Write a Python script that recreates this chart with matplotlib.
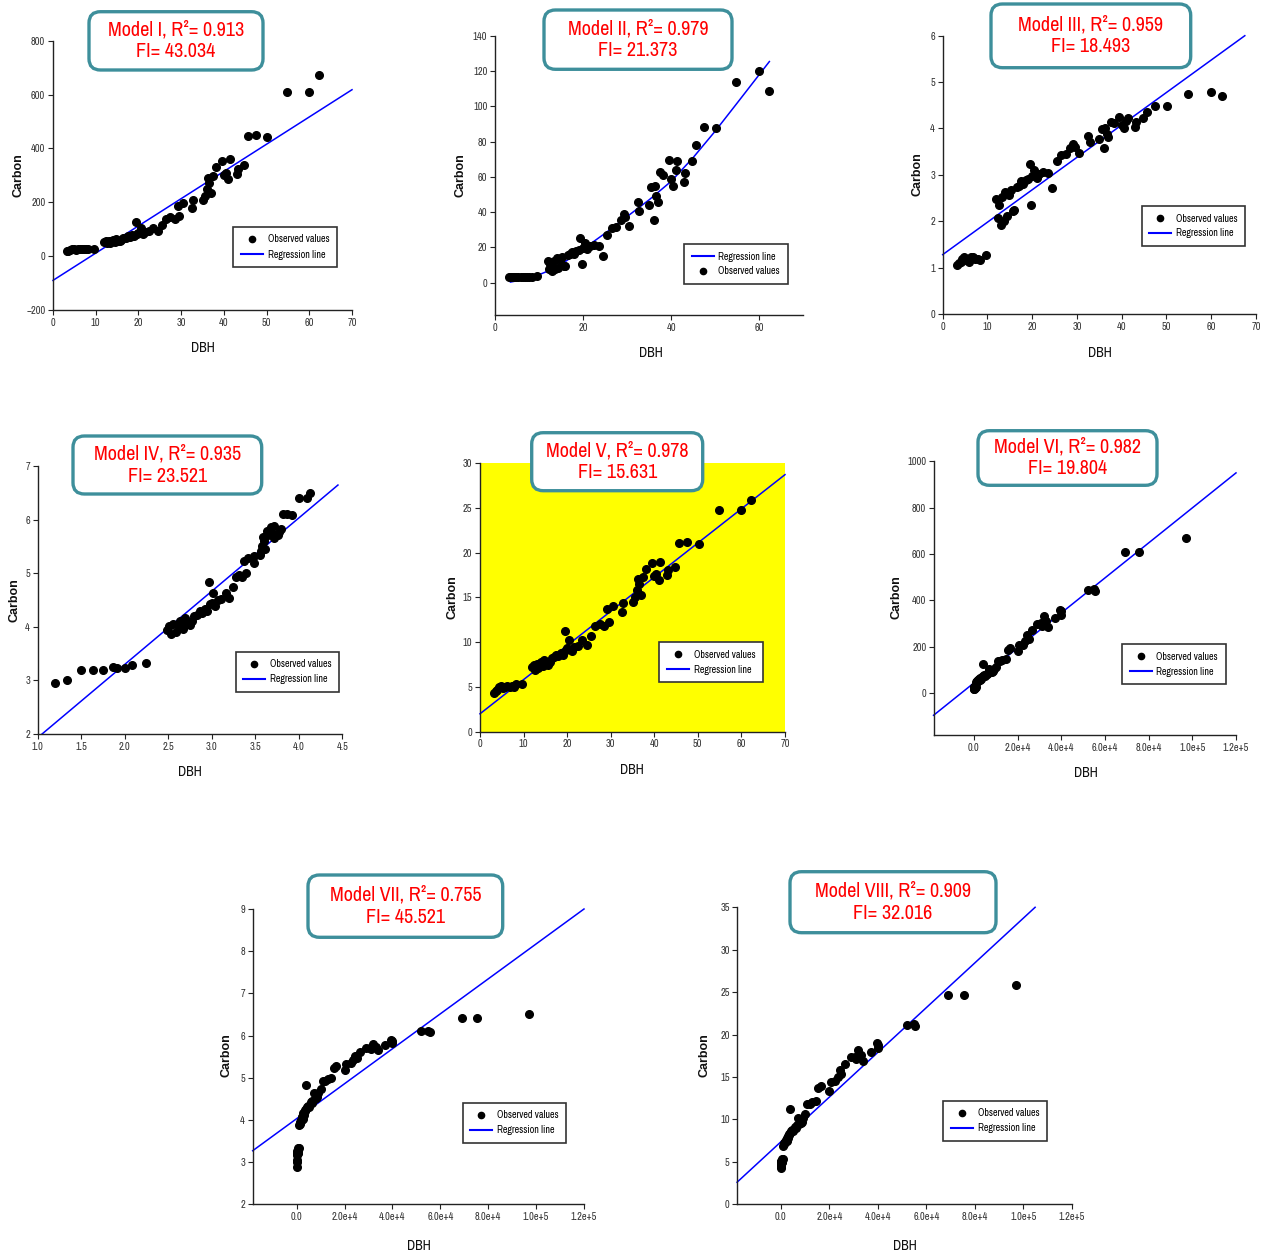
import matplotlib
matplotlib.use("Agg")
import matplotlib.pyplot as plt
from matplotlib import font_manager
from matplotlib.patches import FancyBboxPatch
from matplotlib.lines import Line2D
from matplotlib.ticker import FixedLocator, FixedFormatter

# tree data
dbh = [3.2, 3.6, 4.0, 4.4, 4.8, 5.3, 5.8, 6.3, 6.8, 7.3, 7.8, 8.3, 9.6,
       12.0, 12.3, 12.6, 13.0, 13.3, 13.6, 14.0, 14.4, 14.8, 15.2, 15.6, 16.0, 16.5, 17.0, 17.5, 18.0, 18.5, 19.0, 19.4, 19.7, 20.0,
       20.5, 21.0, 21.5, 22.5, 23.5, 24.5, 25.5, 26.5, 27.5, 28.5, 29.2, 29.6, 30.5, 32.5, 32.8, 35.0,
       35.5, 36.0, 36.3, 36.6, 37.0, 37.5, 38.2, 39.5, 40.0, 40.5, 41.0, 41.4, 43.0, 43.2, 44.8, 45.7, 47.5, 50.2, 54.8, 60.0, 62.3]

carbon = [18, 20, 21, 25, 26, 24, 25, 26, 25, 26, 25, 28, 28,
          52, 55, 48, 58, 50, 56, 61, 53, 64, 58, 56, 61, 67, 69, 74, 71, 77, 74, 125, 83, 86,
          104, 81, 90, 92, 104, 94, 114, 139, 144, 139, 188, 149, 196, 180, 207, 210,
          225, 250, 292, 272, 234, 299, 331, 353, 303, 310, 286, 361, 306, 324, 339, 445, 449, 441, 610, 610, 671]

carbon_ii = [2.9, 3.0, 3.1, 3.3, 3.4, 3.2, 3.1, 3.4, 3.4, 3.3, 3.3, 3.2, 3.6,
             12.0, 8.0, 10.5, 6.8, 12.5, 7.5, 14.0, 8.3, 13.0, 14.5, 9.2, 9.5, 15.5, 16.0, 17.5, 16.5, 18.0, 18.5, 25.5, 10.5, 19.5,
             22.5, 19.0, 20.5, 21.5, 21.0, 15.0, 27.0, 31.0, 31.5, 35.5, 39.0, 37.0, 32.0, 46.0, 40.5, 44.0,
             54.0, 35.5, 55.0, 49.0, 45.5, 63.0, 61.0, 69.5, 59.0, 55.0, 64.0, 69.0, 57.0, 62.0, 69.0, 78.0, 88.5, 88.0, 114.0, 120.0, 109.0]

ln_carbon_iii = [1.06, 1.10, 1.13, 1.19, 1.22, 1.16, 1.13, 1.22, 1.22, 1.19, 1.19, 1.16, 1.28,
                 2.48, 2.08, 2.35, 1.92, 2.53, 2.01, 2.64, 2.12, 2.56, 2.67, 2.22, 2.25, 2.74, 2.77, 2.86, 2.80, 2.89, 2.92, 3.24, 2.35, 2.97,
                 3.11, 2.94, 3.02, 3.07, 3.04, 2.71, 3.30, 3.43, 3.45, 3.57, 3.66, 3.61, 3.47, 3.83, 3.70, 3.78,
                 3.99, 3.57, 4.01, 3.89, 3.82, 4.14, 4.11, 4.24, 4.08, 4.01, 4.16, 4.23, 4.04, 4.13, 4.23, 4.36, 4.48, 4.48, 4.74, 4.79, 4.69]

sqrt_carbon = [4.3, 4.5, 4.6, 5.0, 5.1, 4.9, 5.0, 5.1, 5.0, 5.1, 5.0, 5.3, 5.3,
               7.2, 7.4, 6.9, 7.6, 7.1, 7.5, 7.8, 7.3, 8.0, 7.6, 7.5, 7.8, 8.2, 8.3, 8.6, 8.4, 8.8, 8.6, 11.2, 9.1, 9.3,
               10.2, 9.0, 9.5, 9.6, 10.2, 9.7, 10.7, 11.8, 12.0, 11.8, 13.7, 12.2, 14.0, 13.4, 14.4, 14.5,
               15.0, 15.8, 17.1, 16.5, 15.3, 17.3, 18.2, 18.8, 17.4, 17.6, 16.9, 19.0, 17.5, 18.0, 18.4, 21.1, 21.2, 21.0, 24.7, 24.7, 25.9]

ln_dbh_iv = [1.20, 1.34, 1.50, 1.63, 1.75, 1.87, 1.91, 2.00, 2.08, 2.25,
             2.48, 2.51, 2.53, 2.56, 2.59, 2.61, 2.64, 2.67, 2.69, 2.72, 2.75, 2.77, 2.80, 2.83, 2.86, 2.89, 2.92, 2.94, 2.97, 2.98, 3.00,
             3.02, 3.04, 3.07, 3.11, 3.16, 3.20, 3.24, 3.28, 3.31, 3.35, 3.37, 3.39, 3.42, 3.48, 3.49, 3.56,
             3.57, 3.58, 3.59, 3.60, 3.61, 3.62, 3.64, 3.68, 3.69, 3.70, 3.71, 3.72, 3.76, 3.77, 3.80, 3.82, 3.86, 3.92, 4.00, 4.09, 4.13]

ln_carbon_iv = [2.96, 3.00, 3.20, 3.20, 3.20, 3.25, 3.24, 3.23, 3.29, 3.33,
                3.95, 4.01, 3.87, 4.06, 3.91, 4.03, 4.11, 3.97, 4.16, 4.06, 4.03, 4.11, 4.20, 4.23, 4.30, 4.26, 4.34, 4.30, 4.83, 4.42, 4.45,
                4.64, 4.39, 4.50, 4.52, 4.64, 4.54, 4.74, 4.93, 4.97, 4.93, 5.24, 5.00, 5.28, 5.19, 5.33, 5.35,
                5.42, 5.52, 5.68, 5.61, 5.46, 5.70, 5.80, 5.87, 5.71, 5.74, 5.66, 5.89, 5.72, 5.78, 5.83, 6.10, 6.11, 6.09, 6.41, 6.41, 6.51]

d2h = [0, 50, 100, 150, 200, 250, 300, 400, 450, 500, 600, 700, 900,
       1500, 1800, 1000, 2000, 1200, 2200, 2500, 1600, 2800, 2400, 2600, 3000, 3300, 3600, 4200, 3900, 4800, 5200, 4000, 5800, 6500,
       7000, 6200, 7500, 8200, 9000, 8600, 10000, 11000, 13000, 12000, 15500, 14500, 16500, 20000, 20500, 22500,
       23500, 24500, 31000, 26500, 25000, 29000, 32000, 40000, 30500, 33000, 34000, 39500, 32500, 37000, 40000, 52000, 55000, 55500, 69000, 75500, 97000]

ln_carbon_vii = [2.89, 3.00, 3.04, 3.22, 3.26, 3.18, 3.22, 3.26, 3.22, 3.26, 3.22, 3.33, 3.33,
                 3.95, 4.01, 3.87, 4.06, 3.91, 4.03, 4.11, 3.97, 4.16, 4.06, 4.03, 4.11, 4.20, 4.23, 4.30, 4.26, 4.34, 4.30, 4.83, 4.42, 4.45,
                 4.64, 4.39, 4.50, 4.52, 4.64, 4.54, 4.74, 4.93, 4.97, 4.93, 5.24, 5.00, 5.28, 5.19, 5.33, 5.35,
                 5.42, 5.52, 5.68, 5.61, 5.46, 5.70, 5.80, 5.87, 5.71, 5.74, 5.66, 5.89, 5.72, 5.78, 5.83, 6.10, 6.11, 6.09, 6.41, 6.41, 6.51]

# regression lines (end points / curve points)
reg_i_x, reg_i_y = [0, 70], [-90, 618]
reg_ii_x = [3.5, 8, 12, 16, 20, 25, 30, 35, 40, 45, 50, 55, 62.3]
reg_ii_y = [0.3, 2.5, 6.5, 12, 19, 28, 37.5, 47, 57.5, 71, 86, 102, 125.5]
reg_iii_x, reg_iii_y = [0, 67.5], [1.28, 6.0]
reg_iv_x, reg_iv_y = [1.05, 4.45], [2.0, 6.65]
reg_v_x, reg_v_y = [0, 70], [2.0, 28.7]
reg_vi_x, reg_vi_y = [-18500, 120000], [-95, 950]
reg_vii_x, reg_vii_y = [-18400, 120000], [3.27, 9.0]
reg_viii_x, reg_viii_y = [-18000, 104800], [2.6, 35]

titles = [("Model I, R²= 0.913", "FI= 43.034"), ("Model II, R²= 0.979", "FI= 21.373"),
          ("Model III, R²= 0.959", "FI= 18.493"), ("Model IV, R²= 0.935", "FI= 23.521"),
          ("Model V, R²= 0.978", "FI= 15.631"), ("Model VI, R²= 0.982", "FI= 19.804"),
          ("Model VII, R²= 0.755", "FI= 45.521"), ("Model VIII, R²= 0.909", "FI= 32.016")]

# a narrow face if there is one, otherwise Liberation Sans at smaller sizes
narrow_names = sorted({f.name for f in font_manager.fontManager.ttflist
                       if "Narrow" in f.name or "Condensed" in f.name})
if narrow_names:
    narrow = narrow_names[0]
    t_size, k_size, l_size, d_size = 14.5, 7.5, 7.2, 10
else:
    narrow = "Liberation Sans"
    t_size, k_size, l_size, d_size = 12.5, 6.5, 6.3, 8

W, H = 1274, 1254
fig = plt.figure(figsize=(W / 100, H / 100), dpi=100)

def fx(px):
    return px / W

def fy(py):
    return 1 - py / H

def make_axes(l, r, t, b):
    return fig.add_axes([fx(l), fy(b), (r - l) / W, (b - t) / H])

def style(ax, xlim, ylim, xt, yt, xl=None, yl=None):
    ax.set_xlim(*xlim)
    ax.set_ylim(*ylim)
    for s in ["top", "right"]:
        ax.spines[s].set_visible(False)
    for s in ["left", "bottom"]:
        ax.spines[s].set_color("#222222")
        ax.spines[s].set_linewidth(1.0)
    ax.xaxis.set_major_locator(FixedLocator(xt))
    ax.yaxis.set_major_locator(FixedLocator(yt))
    if xl is not None:
        ax.xaxis.set_major_formatter(FixedFormatter(xl))
    if yl is not None:
        ax.yaxis.set_major_formatter(FixedFormatter(yl))
    ax.tick_params(direction="out", length=3.5, width=0.8, colors="#222222", labelsize=k_size, pad=2)
    for lab in ax.get_xticklabels() + ax.get_yticklabels():
        lab.set_family(narrow)
        lab.set_color("#333333")

def title_box(l, r, t, b, lines):
    box = FancyBboxPatch((fx(l), fy(b)), (r - l) / W, (b - t) / H,
                         boxstyle="round,pad=0,rounding_size=0.009",
                         transform=fig.transFigure, facecolor="white",
                         edgecolor="#3E8F9B", linewidth=2.4, zorder=5)
    fig.add_artist(box)
    cx, cy = (l + r) / 2, (t + b) / 2
    fig.text(fx(cx), fy(cy - 11), lines[0], ha="center", va="center", color="#FF0000",
             fontsize=t_size, family=narrow, zorder=6)
    fig.text(fx(cx), fy(cy + 11), lines[1], ha="center", va="center", color="#FF0000",
             fontsize=t_size, family=narrow, zorder=6)

def labels(cx, cy, dx, dy):
    fig.text(fx(cx), fy(cy), "Carbon", rotation=90, ha="center", va="center",
             fontsize=9, fontweight="bold", family="Liberation Sans", color="#111111")
    fig.text(fx(dx), fy(dy), "DBH", ha="center", va="center",
             fontsize=d_size, family=narrow, color="#111111")

def legend(ax, px, py, reverse=False):
    obs = Line2D([], [], marker="o", ls="none", color="black", ms=4.5)
    reg = Line2D([], [], color="blue", lw=1.5)
    hs, ls = [obs, reg], ["Observed values", "Regression line"]
    if reverse:
        hs, ls = hs[::-1], ls[::-1]
    leg = ax.legend(hs, ls, loc="upper left", bbox_to_anchor=(fx(px), fy(py)),
                    bbox_transform=fig.transFigure, borderaxespad=0, fancybox=False,
                    framealpha=1, edgecolor="#333333", prop={"family": narrow, "size": l_size},
                    handlelength=2.2, handletextpad=0.5, borderpad=0.75, labelspacing=0.5)
    leg.get_frame().set_linewidth(1.2)
    leg.set_zorder(4)

def scatter(ax, x, y):
    ax.plot(x, y, "o", color="black", ms=5.5, zorder=3, clip_on=False)

def reg(ax, x, y):
    ax.plot(x, y, color="blue", lw=1.1, zorder=2, clip_on=False)

e_ticks = [0, 20000, 40000, 60000, 80000, 100000, 120000]
e_labels = ["0.0", "2.0e+4", "4.0e+4", "6.0e+4", "8.0e+4", "1.0e+5", "1.2e+5"]

# Model I
ax = make_axes(53, 352, 40.7, 310)
reg(ax, reg_i_x, reg_i_y)
scatter(ax, dbh, carbon)
style(ax, (0, 70), (-200, 800), range(0, 71, 10), range(-200, 801, 200))
legend(ax, 233, 227)
labels(18, 175, 203, 348)
title_box(89, 263, 11.7, 70, titles[0])

# Model II
ax = make_axes(495, 803.3, 36, 315)
reg(ax, reg_ii_x, reg_ii_y)
scatter(ax, dbh, carbon_ii)
style(ax, (0, 70), (-18.4, 140), [0, 20, 40, 60], range(0, 141, 20))
legend(ax, 684, 244, reverse=True)
labels(461, 175, 651, 353)
title_box(544, 732, 10, 69.3, titles[1])

# Model III
ax = make_axes(942.7, 1256, 35.7, 314)
reg(ax, reg_iii_x, reg_iii_y)
scatter(ax, dbh, ln_carbon_iii)
style(ax, (0, 70), (0, 6), range(0, 71, 10), range(0, 7))
legend(ax, 1141.7, 206)
labels(918, 174, 1100, 353)
title_box(991, 1190.7, 4, 67.7, titles[2])

# Model IV
ax = make_axes(37.7, 342.3, 466.3, 734)
reg(ax, reg_iv_x, reg_iv_y)
scatter(ax, ln_dbh_iv, ln_carbon_iv)
style(ax, (1.0, 4.5), (2, 7), [1.0, 1.5, 2.0, 2.5, 3.0, 3.5, 4.0, 4.5], range(2, 8),
      xl=["1.0", "1.5", "2.0", "2.5", "3.0", "3.5", "4.0", "4.5"])
legend(ax, 235.7, 651.7)
labels(14, 600, 190, 772)
title_box(73, 261.7, 436, 494, titles[3])

# Model V
ax = make_axes(480, 785, 463, 731.7)
ax.set_facecolor("#FFFF00")
reg(ax, reg_v_x, reg_v_y)
scatter(ax, dbh, sqrt_carbon)
style(ax, (0, 70), (0, 30), range(0, 71, 10), range(0, 31, 5))
legend(ax, 659, 642.3)
labels(452, 597, 632, 770)
title_box(531.7, 702.7, 432.7, 490.7, titles[4])

# Model VI
ax = make_axes(934, 1236, 461.3, 735)
reg(ax, reg_vi_x, reg_vi_y)
scatter(ax, d2h, carbon)
style(ax, (-18300, 120000), (-180, 1000), e_ticks, range(0, 1001, 200), xl=e_labels)
legend(ax, 1122, 644)
labels(897, 597, 1086, 773)
title_box(978, 1157, 430.7, 485.3, titles[5])

# Model VII
ax = make_axes(252.7, 584, 909, 1204.3)
reg(ax, reg_vii_x, reg_vii_y)
scatter(ax, d2h, ln_carbon_vii)
style(ax, (-18400, 120000), (2, 9), e_ticks, range(2, 10), xl=e_labels)
legend(ax, 462.7, 1102.7)
labels(227, 1055, 419, 1246)
title_box(308, 502.7, 875, 937.3, titles[6])

# Model VIII
ax = make_axes(737.3, 1072, 907.3, 1204.3)
reg(ax, reg_viii_x, reg_viii_y)
scatter(ax, d2h, sqrt_carbon)
style(ax, (-17900, 120000), (0, 35), e_ticks, range(0, 36, 5), xl=e_labels)
legend(ax, 943.3, 1100.7)
labels(705, 1055, 905, 1246)
title_box(790, 996, 871.7, 932.7, titles[7])

fig.savefig("out.png", dpi=100)
